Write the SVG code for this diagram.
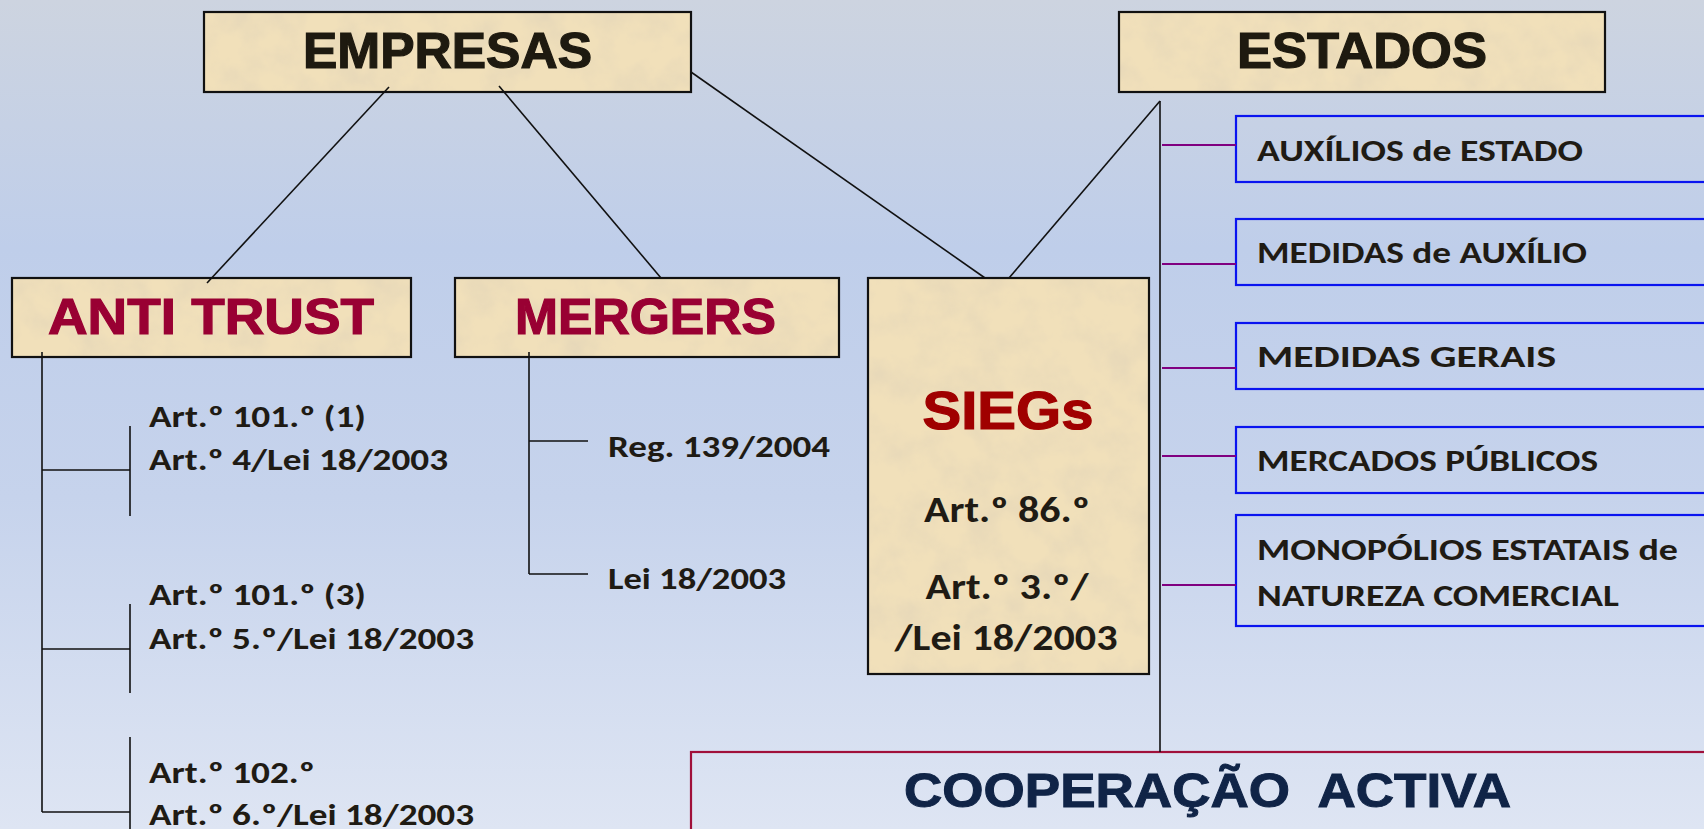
<svg xmlns="http://www.w3.org/2000/svg" width="1704" height="829" viewBox="0 0 1704 829">
<defs>
<linearGradient id="bg" x1="0" y1="0" x2="0" y2="1">
<stop offset="0" stop-color="#CDD4E0"/>
<stop offset="0.3" stop-color="#BFCEEA"/>
<stop offset="0.6" stop-color="#C6D3EC"/>
<stop offset="1" stop-color="#DEE5F3"/>
</linearGradient>
<filter id="tex" x="0" y="0" width="100%" height="100%">
<feTurbulence type="fractalNoise" baseFrequency="0.03" numOctaves="4" seed="7" result="n"/>
<feColorMatrix in="n" type="matrix" values="0 0 0 0 0.76  0 0 0 0 0.66  0 0 0 0 0.48  1.3 0 0 0 -0.5" result="c"/>
<feComposite in="c" in2="SourceGraphic" operator="in"/>
</filter>
<style>
.paper{fill:#F1E0BA;stroke:none}
.tex{fill:#fff;filter:url(#tex)}
.frame{fill:none;stroke:#111;stroke-width:2.2}
.blue{fill:none;stroke:#0A14F0;stroke-width:2.2}
.coop{fill:none;stroke:#A0103A;stroke-width:2.2}
.head{font-family:"Liberation Sans",Arial,sans-serif;font-weight:bold;font-size:50px;fill:#1E1A10;stroke:#1E1A10;stroke-width:1.2;text-anchor:middle}
.red{fill:#990033;stroke:#990033}
.sieg{font-family:"Liberation Sans",Arial,sans-serif;font-weight:bold;font-size:53px;fill:#A00000;stroke:#A00000;stroke-width:1.2;text-anchor:middle}
.body{font-family:Carlito,"Open Sans",sans-serif;font-weight:bold;font-size:31px;fill:#1F1B14}
.sbody{font-family:Carlito,"Open Sans",sans-serif;font-weight:bold;font-size:36px;fill:#1F1B14;text-anchor:middle}
.coopt{font-family:"Liberation Sans",Arial,sans-serif;font-weight:bold;font-size:48px;fill:#102447;stroke:#102447;stroke-width:1}
.ln{stroke:#111;stroke-width:1.6;fill:none}
.pl{stroke:#800080;stroke-width:2;fill:none}
</style>
</defs>
<rect x="0" y="0" width="1704" height="829" fill="url(#bg)"/>

<g id="empresas">
<rect class="paper" x="204" y="12" width="487" height="80"/>
<rect class="tex" x="204" y="12" width="487" height="80"/>
<rect class="frame" x="204" y="12" width="487" height="80"/>
<text class="head" x="447.5" y="68" textLength="289" lengthAdjust="spacingAndGlyphs">EMPRESAS</text>
</g>

<g id="estados">
<rect class="paper" x="1119" y="12" width="486" height="80"/>
<rect class="tex" x="1119" y="12" width="486" height="80"/>
<rect class="frame" x="1119" y="12" width="486" height="80"/>
<text class="head" x="1362" y="68" textLength="250" lengthAdjust="spacingAndGlyphs">ESTADOS</text>
</g>

<g id="antitrust">
<rect class="paper" x="12" y="278" width="399" height="79"/>
<rect class="tex" x="12" y="278" width="399" height="79"/>
<rect class="frame" x="12" y="278" width="399" height="79"/>
<text class="head red" x="211" y="334" textLength="326" lengthAdjust="spacingAndGlyphs">ANTI TRUST</text>
</g>

<g id="mergers">
<rect class="paper" x="455" y="278" width="384" height="79"/>
<rect class="tex" x="455" y="278" width="384" height="79"/>
<rect class="frame" x="455" y="278" width="384" height="79"/>
<text class="head red" x="645.5" y="334" textLength="261" lengthAdjust="spacingAndGlyphs">MERGERS</text>
</g>

<g id="siegs">
<rect class="paper" x="868" y="278" width="281" height="396"/>
<rect class="tex" x="868" y="278" width="281" height="396"/>
<rect class="frame" x="868" y="278" width="281" height="396"/>
<text class="sieg" x="1008" y="429" textLength="171" lengthAdjust="spacingAndGlyphs">SIEGs</text>
<text class="sbody" x="1007" y="522" textLength="166" lengthAdjust="spacingAndGlyphs">Art.º 86.º</text>
<text class="sbody" x="1007" y="599" textLength="163" lengthAdjust="spacingAndGlyphs">Art.º 3.º/</text>
<text class="sbody" x="1006" y="650" textLength="223" lengthAdjust="spacingAndGlyphs">/Lei 18/2003</text>
</g>

<g id="antitrust-items">
<text class="body" x="149" y="427" textLength="217" lengthAdjust="spacingAndGlyphs">Art.º 101.º (1)</text>
<text class="body" x="149" y="470" textLength="299" lengthAdjust="spacingAndGlyphs">Art.º 4/Lei 18/2003</text>
<text class="body" x="149" y="605" textLength="217" lengthAdjust="spacingAndGlyphs">Art.º 101.º (3)</text>
<text class="body" x="149" y="649" textLength="325" lengthAdjust="spacingAndGlyphs">Art.º 5.º/Lei 18/2003</text>
<text class="body" x="149" y="783" textLength="166" lengthAdjust="spacingAndGlyphs">Art.º 102.º</text>
<text class="body" x="149" y="825" textLength="325" lengthAdjust="spacingAndGlyphs">Art.º 6.º/Lei 18/2003</text>
</g>

<g id="mergers-items">
<text class="body" x="608" y="457" textLength="222" lengthAdjust="spacingAndGlyphs">Reg. 139/2004</text>
<text class="body" x="608" y="589" textLength="178" lengthAdjust="spacingAndGlyphs">Lei 18/2003</text>
</g>

<g id="auxilios">
<rect class="blue" x="1236" y="116" width="490" height="66"/>
<text class="body" x="1257" y="161" textLength="326" lengthAdjust="spacingAndGlyphs">AUXÍLIOS de ESTADO</text>
</g>
<g id="medidas-auxilio">
<rect class="blue" x="1236" y="219" width="490" height="66"/>
<text class="body" x="1257" y="263" textLength="330" lengthAdjust="spacingAndGlyphs">MEDIDAS de AUXÍLIO</text>
</g>
<g id="medidas-gerais">
<rect class="blue" x="1236" y="323" width="490" height="66"/>
<text class="body" x="1257" y="367" textLength="299" lengthAdjust="spacingAndGlyphs">MEDIDAS GERAIS</text>
</g>
<g id="mercados">
<rect class="blue" x="1236" y="427" width="490" height="66"/>
<text class="body" x="1257" y="471" textLength="341" lengthAdjust="spacingAndGlyphs">MERCADOS PÚBLICOS</text>
</g>
<g id="monopolios">
<rect class="blue" x="1236" y="515" width="490" height="111"/>
<text class="body" x="1257" y="560" textLength="421" lengthAdjust="spacingAndGlyphs">MONOPÓLIOS ESTATAIS de</text>
<text class="body" x="1257" y="606" textLength="362" lengthAdjust="spacingAndGlyphs">NATUREZA COMERCIAL</text>
</g>

<g id="cooperacao">
<rect class="coop" x="691" y="752" width="1040" height="100"/>
<text class="coopt" x="904" y="807" textLength="607" lengthAdjust="spacingAndGlyphs" xml:space="preserve">COOPERAÇÃO  ACTIVA</text>
</g>

<g id="connectors">
<line class="ln" x1="389" y1="87" x2="207" y2="283"/>
<line class="ln" x1="499" y1="86" x2="661" y2="278"/>
<line class="ln" x1="691" y1="72" x2="985" y2="278"/>
<line class="ln" x1="1160" y1="101" x2="1009" y2="278"/>
<line class="ln" x1="1160" y1="101" x2="1160" y2="752"/>
<line class="ln" x1="42" y1="352" x2="42" y2="812"/>
<line class="ln" x1="42" y1="470" x2="130" y2="470"/>
<line class="ln" x1="42" y1="649" x2="130" y2="649"/>
<line class="ln" x1="42" y1="812" x2="130" y2="812"/>
<line class="ln" x1="130" y1="426" x2="130" y2="516"/>
<line class="ln" x1="130" y1="604" x2="130" y2="693"/>
<line class="ln" x1="130" y1="737" x2="130" y2="829"/>
<line class="ln" x1="529" y1="352" x2="529" y2="574"/>
<line class="ln" x1="529" y1="441" x2="588" y2="441"/>
<line class="ln" x1="529" y1="574" x2="588" y2="574"/>
<line class="pl" x1="1162" y1="145" x2="1236" y2="145"/>
<line class="pl" x1="1162" y1="264" x2="1236" y2="264"/>
<line class="pl" x1="1162" y1="368" x2="1236" y2="368"/>
<line class="pl" x1="1162" y1="456" x2="1236" y2="456"/>
<line class="pl" x1="1162" y1="585" x2="1236" y2="585"/>
</g>
</svg>
